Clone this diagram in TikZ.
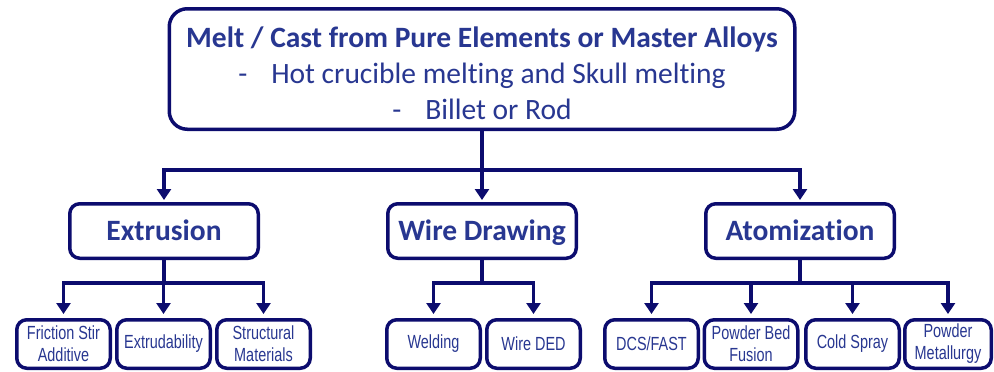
\documentclass[tikz,border=0pt]{standalone}
\usepackage{fontspec}
\setmainfont{Carlito}[Ligatures=NoCommon]
\newfontfamily\narrowfont[FakeStretch=0.76]{Liberation Sans}
\usetikzlibrary{arrows.meta}
\definecolor{boxblue}{RGB}{12,12,110}
\definecolor{textblue}{RGB}{40,55,145}

\begin{document}
\begin{tikzpicture}[x=1pt,y=-1pt,
    box/.style={draw=boxblue,line width=3.5pt,rounded corners=10pt,fill=white,
        text=textblue,inner sep=0pt,align=center},
    mainbox/.style={box,minimum width=188.5pt,minimum height=54.5pt,
        text height=18pt,text depth=0pt,
        font=\fontsize{29.5}{32}\selectfont\bfseries},
    leafbox/.style={box,minimum width=93.5pt,minimum height=48.5pt,
        font=\narrowfont\fontsize{19}{22}\selectfont},
    link/.style={draw=boxblue,line width=3.5pt},
    arrow/.style={link,-{Triangle[width=14pt,length=11pt]},shorten >=2pt}]
    \useasboundingbox (0,0) rectangle (994,372);
    % top level
    \node[box,rounded corners=18pt,minimum width=625.5pt,minimum height=120.5pt,
        font=\fontsize{29.5}{36}\selectfont] (cast) at (482,69)
        {\rule{0pt}{29pt}\textbf{Melt / Cast from Pure Elements or Master Alloys}\\
         -\hspace{24pt}Hot crucible melting and Skull melting\\
         -\hspace{24pt}Billet or Rod};
    % second level
    \node[mainbox] (extr) at (164,231) {Extrusion};
    \node[mainbox] (wire) at (482,231) {Wire Drawing};
    \node[mainbox] (atom) at (800,231) {Atomization};
    \coordinate (split) at (482,170);
    \draw[link] (cast.south) -- (split);
    \draw[arrow] (split) -- (wire.north);
    \foreach \n in {extr,atom}
        \draw[arrow] (split) -| (\n.north);
    % leaves
    \foreach \n/\x/\t in {fsa/63.5/{Friction Stir\\Additive},
                          extrud/163.5/Extrudability,
                          struct/263.5/{Structural\\Materials},
                          weld/433.5/Welding,
                          wded/533.5/Wire DED,
                          dcs/651.5/{DCS/FAST},
                          pbf/751/{Powder Bed\\Fusion},
                          cold/852.5/Cold Spray}
        \node[leafbox] (\n) at (\x,344) {\t};
    \node[leafbox,minimum width=86.5pt] (pm) at (948,344) {Powder\\Metallurgy};
    % branches
    \coordinate (extrsplit) at (164,283);
    \coordinate (wiresplit) at (482,283);
    \coordinate (atomsplit) at (800,283);
    \draw[link] (extr.south) -- (extrsplit);
    \draw[link] (wire.south) -- (wiresplit);
    \draw[link] (atom.south) -- (atomsplit);
    \begin{scope}[arrow/.append style={shorten >=4pt}]
    \foreach \n in {fsa,extrud,struct}
        \draw[arrow] (extrsplit) -| (\n.north);
    \foreach \n in {weld,wded}
        \draw[arrow] (wiresplit) -| (\n.north);
    \foreach \n in {dcs,pbf,cold,pm}
        \draw[arrow] (atomsplit) -| (\n.north);
    \end{scope}
\end{tikzpicture}
\end{document}
